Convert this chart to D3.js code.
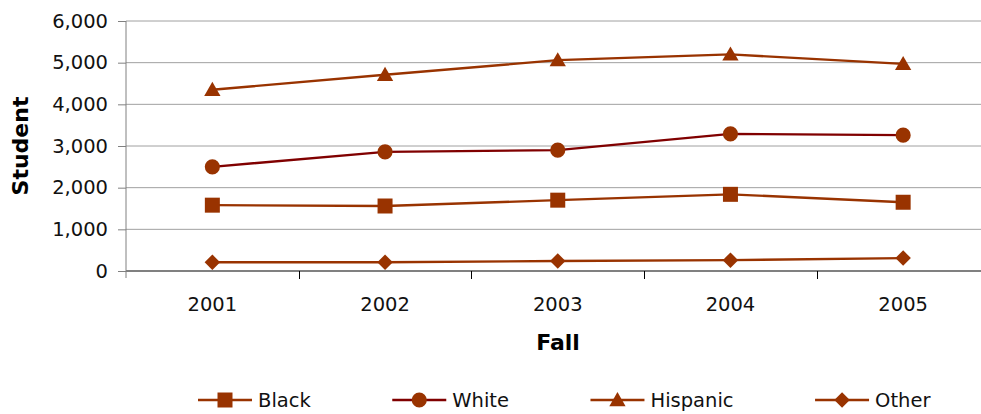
<!DOCTYPE html>
<html>
<head>
<meta charset="utf-8">
<script src="https://cdn.jsdelivr.net/npm/d3@7"></script>
<style>
  html, body { margin: 0; padding: 0; background: #fff; overflow: hidden; }
  svg { display: block; font-family: "DejaVu Sans", Verdana, sans-serif; }
</style>
</head>
<body>
<svg id="chart" width="981" height="414"></svg>
<script>
// Enrollment by fall term
const years = ["2001", "2002", "2003", "2004", "2005"];
const black = [1580, 1560, 1700, 1840, 1650];
const white = [2500, 2860, 2900, 3290, 3260];
const hispanic = [4350, 4710, 5060, 5200, 4970];
const other = [210, 210, 240, 260, 310];
const yTicks = [0, 1000, 2000, 3000, 4000, 5000, 6000];

// square-cornered diamond (a square turned 45 degrees)
const squareDiamond = {
  draw(context, size) {
    const r = Math.sqrt(size / 2);
    context.moveTo(0, -r);
    context.lineTo(r, 0);
    context.lineTo(0, r);
    context.lineTo(-r, 0);
    context.closePath();
  }
};

const series = [
  { name: "Black", values: black, line: "#993300", symbol: d3.symbolSquare },
  { name: "White", values: white, line: "#800000", symbol: d3.symbolCircle },
  { name: "Hispanic", values: hispanic, line: "#993300", symbol: d3.symbolTriangle },
  { name: "Other", values: other, line: "#993300", symbol: squareDiamond }
];
const markerFill = "#993300";

const svg = d3.select("#chart");
const plotLeft = 126, plotRight = 989.5, plotTop = 21, plotBottom = 271;

const x = d3.scaleBand().domain(years).range([plotLeft, plotRight]);
const y = d3.scaleLinear().domain([0, 6000]).range([plotBottom, plotTop]);

// marker sizes (area) tuned per shape so they read the same size
const symbolSize = { Black: 225, White: 180, Hispanic: 115, Other: 120 };

// gridlines
svg.append("g").selectAll("line").data(yTicks.filter(d => d > 0)).join("line")
  .attr("x1", plotLeft).attr("x2", plotRight)
  .attr("y1", d => y(d)).attr("y2", d => y(d))
  .attr("stroke", "#a0a0a0").attr("stroke-width", 1);

// y axis
const yAxis = d3.axisLeft(y).tickValues(yTicks).tickSize(8).tickPadding(10)
  .tickFormat(d3.format(","));
const gy = svg.append("g").attr("transform", `translate(${plotLeft},0)`).call(yAxis);
gy.select(".domain").attr("stroke", "#808080").attr("d", `M0,${plotTop}V${plotBottom + 7}`);
gy.selectAll(".tick line").attr("stroke", "#808080");
gy.selectAll(".tick text").attr("font-size", "19.5px").attr("fill", "#111")
  .attr("font-family", "'DejaVu Sans', Verdana, sans-serif");

// x axis baseline and category boundaries
const gx = svg.append("g").attr("transform", `translate(0,${plotBottom})`);
gx.append("line").attr("x1", plotLeft).attr("x2", plotRight).attr("y1", 0).attr("y2", 0)
  .attr("stroke", "#808080").attr("stroke-width", 2.2);
gx.selectAll("line.bound").data(years.slice(1)).join("line").attr("class", "bound")
  .attr("x1", d => Math.round(x(d)) + 0.5).attr("x2", d => Math.round(x(d)) + 0.5)
  .attr("y1", 0).attr("y2", 8).attr("stroke", "#000");
gx.selectAll("text").data(years).join("text")
  .attr("x", d => x(d) + x.bandwidth() / 2).attr("y", 40)
  .attr("text-anchor", "middle").attr("font-size", "19.5px").attr("fill", "#111")
  .text(d => d);

// axis titles
svg.append("text").attr("x", 558).attr("y", 350).attr("text-anchor", "middle")
  .attr("font-size", "22px").attr("font-weight", "bold").text("Fall");
svg.append("text").attr("transform", `translate(28,${(plotTop + plotBottom) / 2}) rotate(-90)`)
  .attr("text-anchor", "middle").attr("font-size", "22px").attr("font-weight", "bold")
  .text("Student");

// series lines and markers
const line = d3.line().x((d, i) => x(years[i]) + x.bandwidth() / 2).y(d => y(d));
series.forEach(s => {
  const g = svg.append("g");
  g.append("path").attr("d", line(s.values)).attr("fill", "none")
    .attr("stroke", s.line).attr("stroke-width", 2.4);
  g.selectAll("path.m").data(s.values).join("path").attr("class", "m")
    .attr("transform", (d, i) => {
      const dy = s.name === "Hispanic" ? 1.5 : 0;
      return `translate(${x(years[i]) + x.bandwidth() / 2},${y(d) + dy})`;
    })
    .attr("d", d3.symbol().type(s.symbol).size(symbolSize[s.name]))
    .attr("fill", markerFill);
});

// legend
const legend = svg.append("g").attr("transform", "translate(0,400)");
let lx = 198;
series.forEach(s => {
  const item = legend.append("g").attr("transform", `translate(${lx},0)`);
  item.append("line").attr("x1", 0).attr("x2", 54).attr("y1", 0).attr("y2", 0)
    .attr("stroke", s.line).attr("stroke-width", 2.4);
  item.append("path").attr("transform", `translate(27,${s.name === "Hispanic" ? 1.5 : 0})`)
    .attr("d", d3.symbol().type(s.symbol).size(symbolSize[s.name])).attr("fill", markerFill);
  const t = item.append("text").attr("x", 60).attr("y", 7).attr("font-size", "19.5px")
    .attr("fill", "#111").text(s.name);
  lx += 60 + t.node().getComputedTextLength() + 81.5;
});
</script>
</body>
</html>
